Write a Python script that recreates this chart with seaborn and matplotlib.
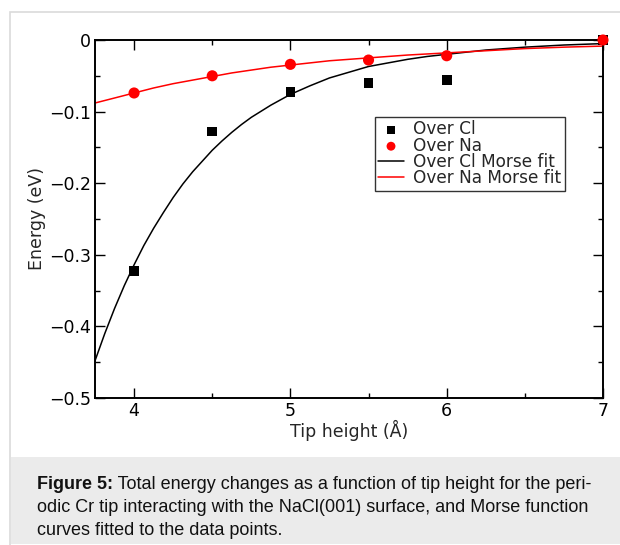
import matplotlib
matplotlib.use("Agg")
import numpy as np
import pandas as pd
import matplotlib.pyplot as plt
from matplotlib.patches import Rectangle
from matplotlib.collections import PathCollection
import seaborn as sns

# measured total energy changes (eV) vs tip height (Å)
tip_height = [4.0, 4.5, 5.0, 5.5, 6.0, 7.0]
energy_cl = [-0.323, -0.128, -0.073, -0.060, -0.056, 0.0]
energy_na = [-0.074, -0.050, -0.034, -0.028, -0.022, 0.0]

# Morse fit curves
fit_x_cl = [3.75, 3.8125, 3.875, 3.9375, 4.0, 4.0625, 4.125, 4.1875, 4.25, 4.3125,
            4.375, 4.4375, 4.5, 4.5625, 4.625, 4.6875, 4.75, 4.875, 5.0, 5.125,
            5.25, 5.375, 5.5, 5.625, 5.75, 5.875, 6.0, 6.25, 6.5, 6.75, 7.0]
fit_cl = [-0.448, -0.410, -0.375, -0.343, -0.314, -0.287, -0.263, -0.241, -0.220, -0.201,
          -0.184, -0.169, -0.154, -0.141, -0.129, -0.118, -0.108, -0.091, -0.076, -0.064,
          -0.053, -0.045, -0.037, -0.032, -0.027, -0.023, -0.020, -0.014, -0.010, -0.007, -0.005]
fit_x_na = [3.75, 3.875, 4.0, 4.125, 4.25, 4.375, 4.5, 4.625, 4.75, 4.875, 5.0,
            5.25, 5.5, 5.75, 6.0, 6.25, 6.5, 6.75, 7.0]
fit_na = [-0.088, -0.081, -0.074, -0.067, -0.061, -0.056, -0.051, -0.046, -0.042, -0.038, -0.035,
          -0.029, -0.025, -0.021, -0.018, -0.015, -0.012, -0.010, -0.0085]

xtick_vals = [4, 5, 6, 7]
xtick_labels = ["4", "5", "6", "7"]
ytick_vals = [0, -0.1, -0.2, -0.3, -0.4, -0.5]
ytick_labels = ["0", "\u22120.1", "\u22120.2", "\u22120.3", "\u22120.4", "\u22120.5"]

caption_bold = "Figure 5:"
caption_lines = [" Total energy changes as a function of tip height for the peri-",
                 "odic Cr tip interacting with the NaCl(001) surface, and Morse function",
                 "curves fitted to the data points."]

sns.set_style("ticks")
plt.rcParams["font.family"] = ["DejaVu Sans"]
plt.rcParams["xtick.direction"] = "in"
plt.rcParams["ytick.direction"] = "in"

W, H = 620, 545
fig = plt.figure(figsize=(W / 100, H / 100), dpi=100)
fig.patch.set_facecolor("white")

# page panel + grey caption box
fig.patches.append(Rectangle((10 / W, -0.1), 1.2, 1.1 - 12 / H, transform=fig.transFigure,
                             facecolor="white", edgecolor="#dadada", lw=1.2, zorder=-2))
fig.patches.append(Rectangle((10.5 / W, 1 - 544 / H), 1.2, (544 - 457) / H, transform=fig.transFigure,
                             facecolor="#ebebeb", edgecolor="none", zorder=-1))

ax = fig.add_axes([95 / W, 1 - 398 / H, (603 - 95) / W, (398 - 40) / H])

pts_cl = pd.DataFrame({"x": tip_height, "y": energy_cl})
pts_na = pd.DataFrame({"x": tip_height, "y": energy_na})
fit_cl_df = pd.DataFrame({"x": fit_x_cl, "y": fit_cl})
fit_na_df = pd.DataFrame({"x": fit_x_na, "y": fit_na})

sns.lineplot(data=fit_cl_df, x="x", y="y", ax=ax, color="black", lw=1.1, zorder=2)
sns.lineplot(data=fit_na_df, x="x", y="y", ax=ax, color="red", lw=1.1, zorder=2)
sns.scatterplot(data=pts_cl, x="x", y="y", ax=ax, marker="s", s=48, color="black",
                edgecolor="none", zorder=3, clip_on=False)
sns.scatterplot(data=pts_na, x="x", y="y", ax=ax, marker="o", s=64, color="red",
                edgecolor="none", zorder=4, clip_on=False)

ax.set_xlim(3.75, 7)
ax.set_ylim(-0.5, 0)
ax.set_xticks(xtick_vals)
ax.set_xticklabels(xtick_labels)
ax.set_yticks(ytick_vals)
ax.set_yticklabels(ytick_labels)
ax.set_xticks([4.5, 5.5, 6.5], minor=True)
ax.set_yticks([-0.05, -0.15, -0.25, -0.35, -0.45], minor=True)
ax.tick_params(which="both", top=True, right=True, width=1.0, colors="black",
               labelsize=12.5)
ax.tick_params(which="major", length=7, pad=3)
ax.tick_params(which="minor", length=3.6)
ax.tick_params(axis="x", which="major", pad=3)
for sp in ax.spines.values():
    sp.set_linewidth(1.4)
    sp.set_color("black")
ax.set_xlabel("Tip height (Å)", fontsize=12.5, labelpad=0)
ax.set_ylabel("Energy (eV)", fontsize=12.5, labelpad=2)

# legend in the same order as the original
markers = [c for c in ax.collections if isinstance(c, PathCollection)]
handles = [markers[0], markers[1], ax.lines[0], ax.lines[1]]
labels = ["Over Cl", "Over Na", "Over Cl Morse fit", "Over Na Morse fit"]
leg = ax.legend(handles, labels, loc="upper left", bbox_to_anchor=(0.551, 0.785),
                fontsize=12.2, frameon=True, fancybox=False, framealpha=1,
                edgecolor="#333333", borderpad=0.2, labelspacing=-0.1,
                handlelength=1.5, handletextpad=0.55, borderaxespad=0,
                markerscale=0.8)
leg.get_frame().set_linewidth(1.0)

# caption
cap_font = ["Liberation Sans", "DejaVu Sans"]
cap_size = 13
t1 = fig.text(37 / W, 1 - 489 / H, caption_bold, fontsize=cap_size, fontweight="bold",
              family=cap_font, color="#111111", va="baseline")
fig.text(37 / W, 1 - 512 / H, caption_lines[1], fontsize=cap_size, family=cap_font,
         color="#111111", va="baseline")
fig.text(37 / W, 1 - 535 / H, caption_lines[2], fontsize=cap_size, family=cap_font,
         color="#111111", va="baseline")
fig.canvas.draw()
bb = t1.get_window_extent()
fig.text(bb.x1 / W, 1 - 489 / H, caption_lines[0], fontsize=cap_size, family=cap_font,
         color="#111111", va="baseline")

fig.savefig("out.png", dpi=100)
